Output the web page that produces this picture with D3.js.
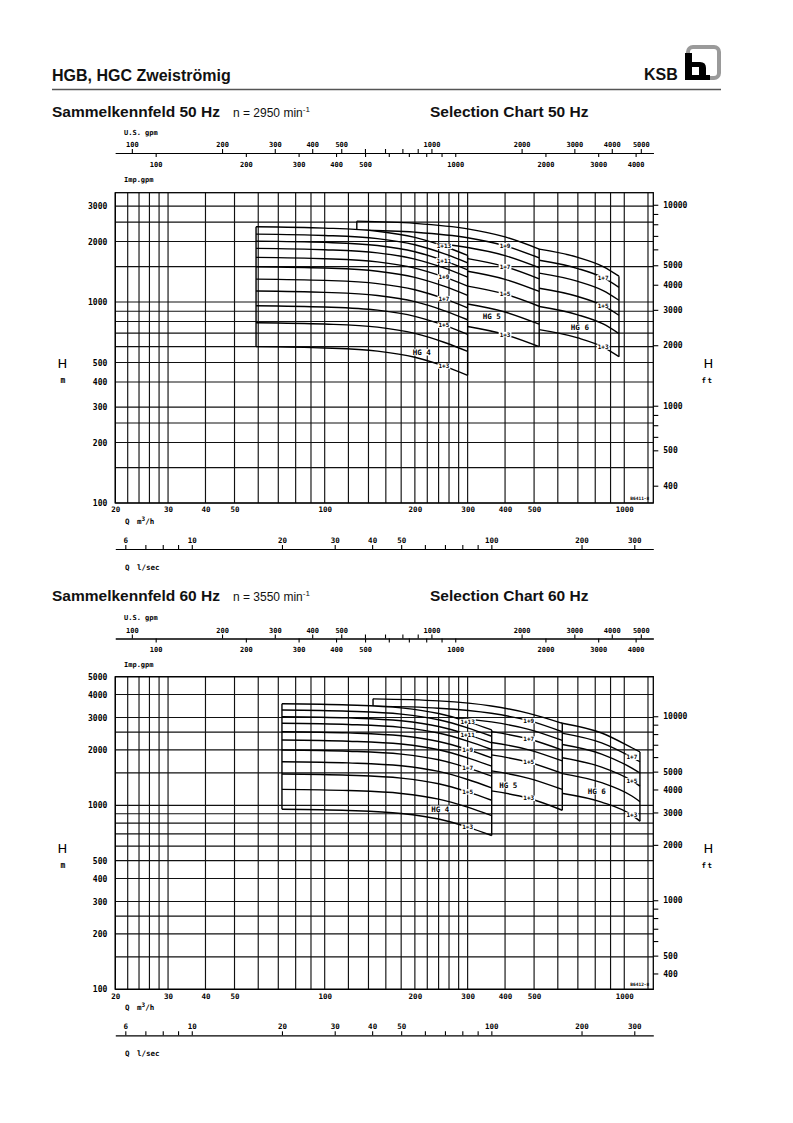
<!DOCTYPE html>
<html>
<head>
<meta charset="utf-8">
<script src="https://cdn.jsdelivr.net/npm/d3@7"></script>
<style>
body { margin: 0; background: #fff; }
svg { display: block; }
.head { font-family: "Liberation Sans", Arial, sans-serif; fill: #111; }
.plot { font-family: "DejaVu Sans Mono", monospace; font-weight: bold; fill: #000; }
</style>
</head>
<body>
<svg id="page" width="793" height="1123"></svg>
<script>
// grid and tick values (flow in m3/h, head in m)
const qGrid = [20, 22, 24, 26, 28, 30, 40, 50, 60, 70, 80, 90, 100, 120, 140, 160, 180, 200, 220, 240, 260, 280, 300, 400, 500, 600, 700, 800, 900, 1000, 1200];
const qLabels = [20, 30, 40, 50, 100, 200, 300, 400, 500, 1000];
const hGrid50 = [100, 150, 200, 250, 300, 400, 500, 600, 700, 800, 900, 1000, 1500, 2000, 2500, 3000];
const hGrid60 = [100, 150, 200, 250, 300, 400, 500, 600, 700, 800, 900, 1000, 1500, 2000, 2500, 3000, 4000, 5000];
const hLabels50 = [100, 200, 300, 400, 500, 1000, 2000, 3000];
const hLabels60 = [100, 200, 300, 400, 500, 1000, 2000, 3000, 4000, 5000];
const usTicks = [100, 200, 300, 400, 500, 600, 700, 800, 900, 1000, 2000, 3000, 4000, 5000];
const usLabels = [100, 200, 300, 400, 500, 1000, 2000, 3000, 4000, 5000];
const impTicks = [100, 200, 300, 400, 500, 600, 700, 800, 900, 1000, 2000, 3000, 4000];
const impLabels = [100, 200, 300, 400, 500, 1000, 2000, 3000, 4000];
const lsTicks = [6, 7, 8, 9, 10, 20, 30, 40, 50, 60, 70, 80, 90, 100, 200, 300];
const lsLabels = [6, 10, 20, 30, 40, 50, 100, 200, 300];
const ftTicks50 = [10000, 9000, 8000, 7000, 6000, 5000, 4000, 3000, 2000, 1000, 900, 800, 700, 600, 400];
const ftText50 = ["10000", "", "", "", "", "5000", "4000", "3000", "2000", "1000", "", "", "", "500", "400"];
const ftTicks60 = [10000, 9000, 8000, 7000, 6000, 5000, 4000, 3000, 2000, 1000, 900, 800, 700, 600, 500, 400];
const ftText60 = ["10000", "", "", "", "", "5000", "4000", "3000", "2000", "1000", "", "", "", "", "500", "400"];

// stage names per pump size
const stagesHG4 = ["1+3", "1+4", "1+5", "1+6", "1+7", "1+8", "1+9", "1+10", "1+11", "1+12", "1+13"];
const stagesHG5 = ["1+3", "1+4", "1+5", "1+6", "1+7", "1+8", "1+9", "1+10"];
const stagesHG6 = ["1+3", "1+4", "1+5", "1+6", "1+7", "1+8"];
const labelled = ["1+3", "1+5", "1+7", "1+9", "1+11", "1+13"];

// 50 Hz, n = 2950 1/min : flow points and head per stage
const hg4Q50 = [59, 100, 150, 200, 250, 300];
const hg4H50 = [
    [600, 591, 570, 531, 480, 432],
    [789, 777, 750, 698, 631, 568],
    [959, 945, 911, 849, 767, 690],
    [1134, 1117, 1077, 1004, 907, 816],
    [1300, 1281, 1235, 1151, 1040, 936],
    [1499, 1477, 1424, 1327, 1199, 1079],
    [1668, 1643, 1585, 1476, 1334, 1201],
    [1849, 1821, 1757, 1636, 1479, 1331],
    [2010, 1980, 1910, 1779, 1608, 1447],
    [2178, 2145, 2069, 1928, 1742, 1568],
    [2369, 2333, 2251, 2097, 1895, 1706]
];
const hg5Q50 = [128, 200, 300, 400, 520];
const hg5H50 = [
    [826, 805, 756, 689, 600],
    [1069, 1042, 978, 892, 776],
    [1312, 1279, 1200, 1094, 953],
    [1555, 1516, 1423, 1297, 1129],
    [1798, 1753, 1645, 1500, 1305],
    [2041, 1990, 1868, 1702, 1482],
    [2284, 2227, 2090, 1905, 1658],
    [2527, 2464, 2312, 2108, 1835]
];
const hg6Q50 = [400, 520, 700, 850, 960];
const hg6H50 = [
    [762, 729, 663, 597, 535],
    [993, 950, 864, 778, 697],
    [1224, 1171, 1065, 959, 859],
    [1455, 1392, 1266, 1140, 1021],
    [1686, 1613, 1467, 1321, 1183],
    [1917, 1834, 1668, 1502, 1345]
];

// 60 Hz, n = 3550 1/min
const hg4Q60 = [72, 120, 180, 240, 300, 361];
const hg4H60 = [
    [951, 937, 903, 842, 761, 685],
    [1221, 1203, 1160, 1081, 977, 879],
    [1479, 1457, 1405, 1309, 1183, 1065],
    [1726, 1700, 1640, 1528, 1381, 1243],
    [1998, 1968, 1898, 1768, 1598, 1439],
    [2265, 2231, 2152, 2005, 1812, 1631],
    [2512, 2474, 2386, 2223, 2010, 1809],
    [2791, 2749, 2651, 2470, 2233, 2010],
    [3030, 2985, 2879, 2682, 2424, 2182],
    [3296, 3247, 3131, 2917, 2637, 2373],
    [3565, 3512, 3387, 3155, 2852, 2567]
];
const hg5Q60 = [145, 240, 360, 480, 621];
const hg5H60 = [
    [1309, 1276, 1198, 1092, 940],
    [1681, 1639, 1538, 1402, 1220],
    [2054, 2003, 1879, 1713, 1491],
    [2400, 2340, 2196, 2002, 1742],
    [2748, 2679, 2514, 2292, 1995],
    [3103, 3025, 2839, 2588, 2253],
    [3458, 3372, 3164, 2884, 2511],
    [3790, 3695, 3468, 3161, 2790]
];
const hg6Q60 = [480, 621, 840, 1060, 1128];
const hg6H60 = [
    [1219, 1161, 1041, 885, 820],
    [1564, 1487, 1327, 1123, 1046],
    [1909, 1813, 1613, 1361, 1272],
    [2255, 2139, 1899, 1593, 1498],
    [2600, 2465, 2185, 1824, 1724],
    [2946, 2791, 2471, 2055, 1950]
];

// where the "HG n" names sit (Q m3/h, H m)
const tags50 = [[211, 563], [361, 847], [711, 748]];
const tags60 = [[243, 955], [410, 1289], [809, 1196]];

const svg = d3.select("#page");
const defs = svg.append("defs");

// page header
svg.append("text").attr("class", "head").attr("x", 52).attr("y", 81)
    .attr("font-size", 16).attr("font-weight", "bold").text("HGB, HGC Zweiströmig");
svg.append("line").attr("x1", 52).attr("x2", 721).attr("y1", 89.5).attr("y2", 89.5)
    .attr("stroke", "#555").attr("stroke-width", 1.3);
svg.append("text").attr("class", "head").attr("x", 644).attr("y", 80)
    .attr("font-size", 16).attr("font-weight", "bold").text("KSB");

// KSB logo: grey rounded frame with the black "b"
svg.append("rect").attr("x", 688).attr("y", 47).attr("width", 31).attr("height", 31).attr("rx", 5)
    .attr("fill", "none").attr("stroke", "#9a9a9a").attr("stroke-width", 4);
svg.append("path")
    .attr("d", "M685 53 H692 V62 H700 Q706 62 706 68 V80 H685 Z M692 67 V75 H699 V67 Z")
    .attr("fill", "#000").attr("fill-rule", "evenodd");
svg.append("rect").attr("x", 706).attr("y", 75).attr("width", 4).attr("height", 5).attr("fill", "#000");

function plotAxis(sel, size) {
    sel.attr("font-family", "DejaVu Sans Mono, monospace")
        .attr("font-size", size)
        .attr("font-weight", "bold")
        .attr("color", "#000");
    sel.selectAll("line").attr("stroke-width", 1.1);
    sel.select(".domain").attr("stroke-width", 1.2);
}

function tag(g, cx, cy, txt, size) {
    const w = txt.length * size * 0.6 + 2;
    g.append("rect").attr("x", cx - w / 2).attr("y", cy - size * 0.45)
        .attr("width", w).attr("height", size * 0.9).attr("fill", "#fff");
    g.append("text").attr("class", "plot").attr("x", cx).attr("y", cy).attr("dy", "0.36em")
        .attr("text-anchor", "middle").attr("font-size", size).text(txt);
}

function drawChart(c) {
    const x = d3.scaleLog().domain([20, 1250]).range([115.3, 653.3]);
    const y = d3.scaleLog().domain([100, c.hMax]).range([c.yBottom, c.yTop]);
    const ft = d3.scaleLog().domain([100 / 0.3048, c.hMax / 0.3048]).range([c.yBottom, c.yTop]);
    const us = d3.scaleLog().domain([20 / 0.22712, 1250 / 0.22712]).range(x.range());
    const imp = d3.scaleLog().domain([20 / 0.27277, 1250 / 0.27277]).range(x.range());
    const ls = d3.scaleLog().domain([20 / 3.6, 1250 / 3.6]).range(x.range());
    const [x0, x1] = x.range();
    const mid = (c.yTop + c.yBottom) / 2;
    const g = svg.append("g");

    // titles
    g.append("text").attr("class", "head").attr("x", 52).attr("y", c.titleY)
        .attr("font-size", 15.5).attr("font-weight", "bold").text(c.title);
    const sp = g.append("text").attr("class", "head").attr("x", 233).attr("y", c.titleY)
        .attr("font-size", 12).text(c.speed);
    sp.append("tspan").attr("font-size", 8).attr("dy", -5).text("-1");
    g.append("text").attr("class", "head").attr("x", 430).attr("y", c.titleY)
        .attr("font-size", 15.5).attr("font-weight", "bold").text(c.sel);

    // gpm scales above the chart
    const gp = g.append("g").attr("transform", `translate(0,${c.gpmY})`);
    gp.append("g")
        .call(d3.axisTop(us).tickValues(usTicks).tickSize(4).tickSizeOuter(0).tickPadding(2)
            .tickFormat(d => usLabels.includes(d) ? d : ""))
        .call(plotAxis, 7);
    gp.append("g")
        .call(d3.axisBottom(imp).tickValues(impTicks).tickSize(4).tickSizeOuter(0).tickPadding(5)
            .tickFormat(d => impLabels.includes(d) ? d : ""))
        .call(plotAxis, 7);
    gp.append("text").attr("class", "plot").attr("x", 124).attr("y", -18.5).attr("font-size", 7).text("U.S. gpm");
    gp.append("text").attr("class", "plot").attr("x", 124).attr("y", 28.5).attr("font-size", 7).text("Imp.gpm");

    // grid
    g.append("g").selectAll("line").data(qGrid).join("line")
        .attr("x1", d => x(d)).attr("x2", d => x(d))
        .attr("y1", c.yTop).attr("y2", c.yBottom)
        .attr("stroke", "#111").attr("stroke-width", 1.15);
    g.append("g").selectAll("line").data(c.hGrid).join("line")
        .attr("x1", x0).attr("x2", x1)
        .attr("y1", d => y(d)).attr("y2", d => y(d))
        .attr("stroke", "#111").attr("stroke-width", 1.15);
    g.append("rect").attr("x", x0).attr("y", c.yTop)
        .attr("width", x1 - x0).attr("height", c.yBottom - c.yTop)
        .attr("fill", "none").attr("stroke", "#000").attr("stroke-width", 1.3);

    // characteristic curves; each larger size is hidden inside the smaller ones' fields
    const line = d3.line().x(d => x(d[0])).y(d => y(d[1])).curve(d3.curveMonotoneX);
    const area = d3.area().x(d => x(d.q)).y0(d => y(d.lo)).y1(d => y(d.hi)).curve(d3.curveMonotoneX);
    const fields = [];
    c.families.forEach((f, i) => {
        const fg = g.append("g").attr("fill", "none").attr("stroke", "#000")
            .attr("stroke-width", 1.4).attr("stroke-linejoin", "round");
        if (i > 0) {
            const id = `${c.id}-mask-${i}`;
            const m = defs.append("mask").attr("id", id).attr("maskUnits", "userSpaceOnUse")
                .attr("x", 0).attr("y", 0).attr("width", 793).attr("height", 1123);
            m.append("rect").attr("width", 793).attr("height", 1123).attr("fill", "#fff");
            fields.forEach(p => m.append("path").attr("d", p).attr("fill", "#000"));
            fg.attr("mask", `url(#${id})`);
        }
        const lo = f.heads[0];
        const hi = f.heads[f.heads.length - 1];
        fields.push(area(f.q.map((q, j) => ({ q: q, lo: lo[j], hi: hi[j] }))));
        f.heads.forEach(h => {
            fg.append("path").attr("d", line(f.q.map((q, j) => [q, h[j]])));
        });
        [0, f.q.length - 1].forEach(j => {
            fg.append("line")
                .attr("x1", x(f.q[j])).attr("x2", x(f.q[j]))
                .attr("y1", y(lo[j])).attr("y2", y(hi[j]));
        });
    });

    // stage and size labels
    const lg = g.append("g");
    c.families.forEach(f => {
        const j = f.q.indexOf(f.labelQ);
        f.stages.forEach((s, k) => {
            if (labelled.includes(s)) tag(lg, x(f.q[j]), y(f.heads[k][j]), s, 6);
        });
        tag(lg, x(f.tag[0]), y(f.tag[1]), f.name, 7.5);
    });

    // head axes
    g.append("g").attr("transform", `translate(${x0},0)`)
        .call(d3.axisLeft(y).tickValues(c.hLabels).tickSize(0).tickPadding(8).tickFormat(d => d))
        .call(plotAxis, 8)
        .call(a => a.select(".domain").remove());
    const ftMap = new Map(c.ftTicks.map((v, i) => [v, c.ftText[i]]));
    g.append("g").attr("transform", `translate(${x1},0)`)
        .call(d3.axisRight(ft).tickValues(c.ftTicks).tickSize(5).tickPadding(5).tickFormat(d => ftMap.get(d)))
        .call(plotAxis, 8)
        .call(a => a.select(".domain").remove());

    // flow axes below
    g.append("g").attr("transform", `translate(0,${c.yBottom})`)
        .call(d3.axisBottom(x).tickValues(qLabels).tickSize(0).tickPadding(4).tickFormat(d => d))
        .call(plotAxis, 7.5)
        .call(a => a.select(".domain").remove());
    g.append("g").attr("transform", `translate(0,${c.yBottom + 46})`)
        .call(d3.axisTop(ls).tickValues(lsTicks).tickSize(4).tickSizeOuter(0).tickPadding(2)
            .tickFormat(d => lsLabels.includes(d) ? d : ""))
        .call(plotAxis, 7.5);

    const qm = g.append("text").attr("class", "plot").attr("font-size", 7.5).attr("y", c.yBottom + 21);
    qm.append("tspan").attr("x", 125).text("Q");
    qm.append("tspan").attr("x", 137).text("m");
    qm.append("tspan").attr("font-size", 6).attr("dy", -3).text("3");
    qm.append("tspan").attr("dy", 3).text("/h");
    const ql = g.append("text").attr("class", "plot").attr("font-size", 7.5).attr("y", c.yBottom + 67);
    ql.append("tspan").attr("x", 125).text("Q");
    ql.append("tspan").attr("x", 137).text("l/sec");

    // axis titles H [m] / H [ft]
    g.append("text").attr("x", 62.5).attr("y", mid + 15).attr("dy", "0.36em").attr("text-anchor", "middle")
        .attr("font-family", "DejaVu Sans, sans-serif").attr("font-size", 13).text("H");
    g.append("text").attr("class", "plot").attr("x", 63).attr("y", mid + 32).attr("dy", "0.36em")
        .attr("text-anchor", "middle").attr("font-size", 8).attr("font-weight", "normal").text("m");
    g.append("text").attr("x", 708.5).attr("y", mid + 15).attr("dy", "0.36em").attr("text-anchor", "middle")
        .attr("font-family", "DejaVu Sans, sans-serif").attr("font-size", 13).text("H");
    g.append("text").attr("class", "plot").attr("x", 707.5).attr("y", mid + 32).attr("dy", "0.36em")
        .attr("text-anchor", "middle").attr("font-size", 7.5).attr("letter-spacing", 1.5).text("ft");

    g.append("text").attr("class", "plot").attr("x", x1 - 4).attr("y", c.yBottom - 3)
        .attr("text-anchor", "end").attr("font-size", 4.5).text(c.code);
}

drawChart({
    id: "c50", title: "Sammelkennfeld 50 Hz", speed: "n = 2950 min", sel: "Selection Chart 50 Hz",
    titleY: 117, gpmY: 153, yTop: 192.7, yBottom: 503, hMax: 3500,
    hGrid: hGrid50, hLabels: hLabels50, ftTicks: ftTicks50, ftText: ftText50, code: "B6411-8",
    families: [
        { name: "HG 4", q: hg4Q50, heads: hg4H50, stages: stagesHG4, labelQ: 250, tag: tags50[0] },
        { name: "HG 5", q: hg5Q50, heads: hg5H50, stages: stagesHG5, labelQ: 400, tag: tags50[1] },
        { name: "HG 6", q: hg6Q50, heads: hg6H50, stages: stagesHG6, labelQ: 850, tag: tags50[2] }
    ]
});

drawChart({
    id: "c60", title: "Sammelkennfeld 60 Hz", speed: "n = 3550 min", sel: "Selection Chart 60 Hz",
    titleY: 601, gpmY: 638.5, yTop: 676.7, yBottom: 989.3, hMax: 5000,
    hGrid: hGrid60, hLabels: hLabels60, ftTicks: ftTicks60, ftText: ftText60, code: "B6412-8",
    families: [
        { name: "HG 4", q: hg4Q60, heads: hg4H60, stages: stagesHG4, labelQ: 300, tag: tags60[0] },
        { name: "HG 5", q: hg5Q60, heads: hg5H60, stages: stagesHG5, labelQ: 480, tag: tags60[1] },
        { name: "HG 6", q: hg6Q60, heads: hg6H60, stages: stagesHG6, labelQ: 1060, tag: tags60[2] }
    ]
});
</script>
</body>
</html>
